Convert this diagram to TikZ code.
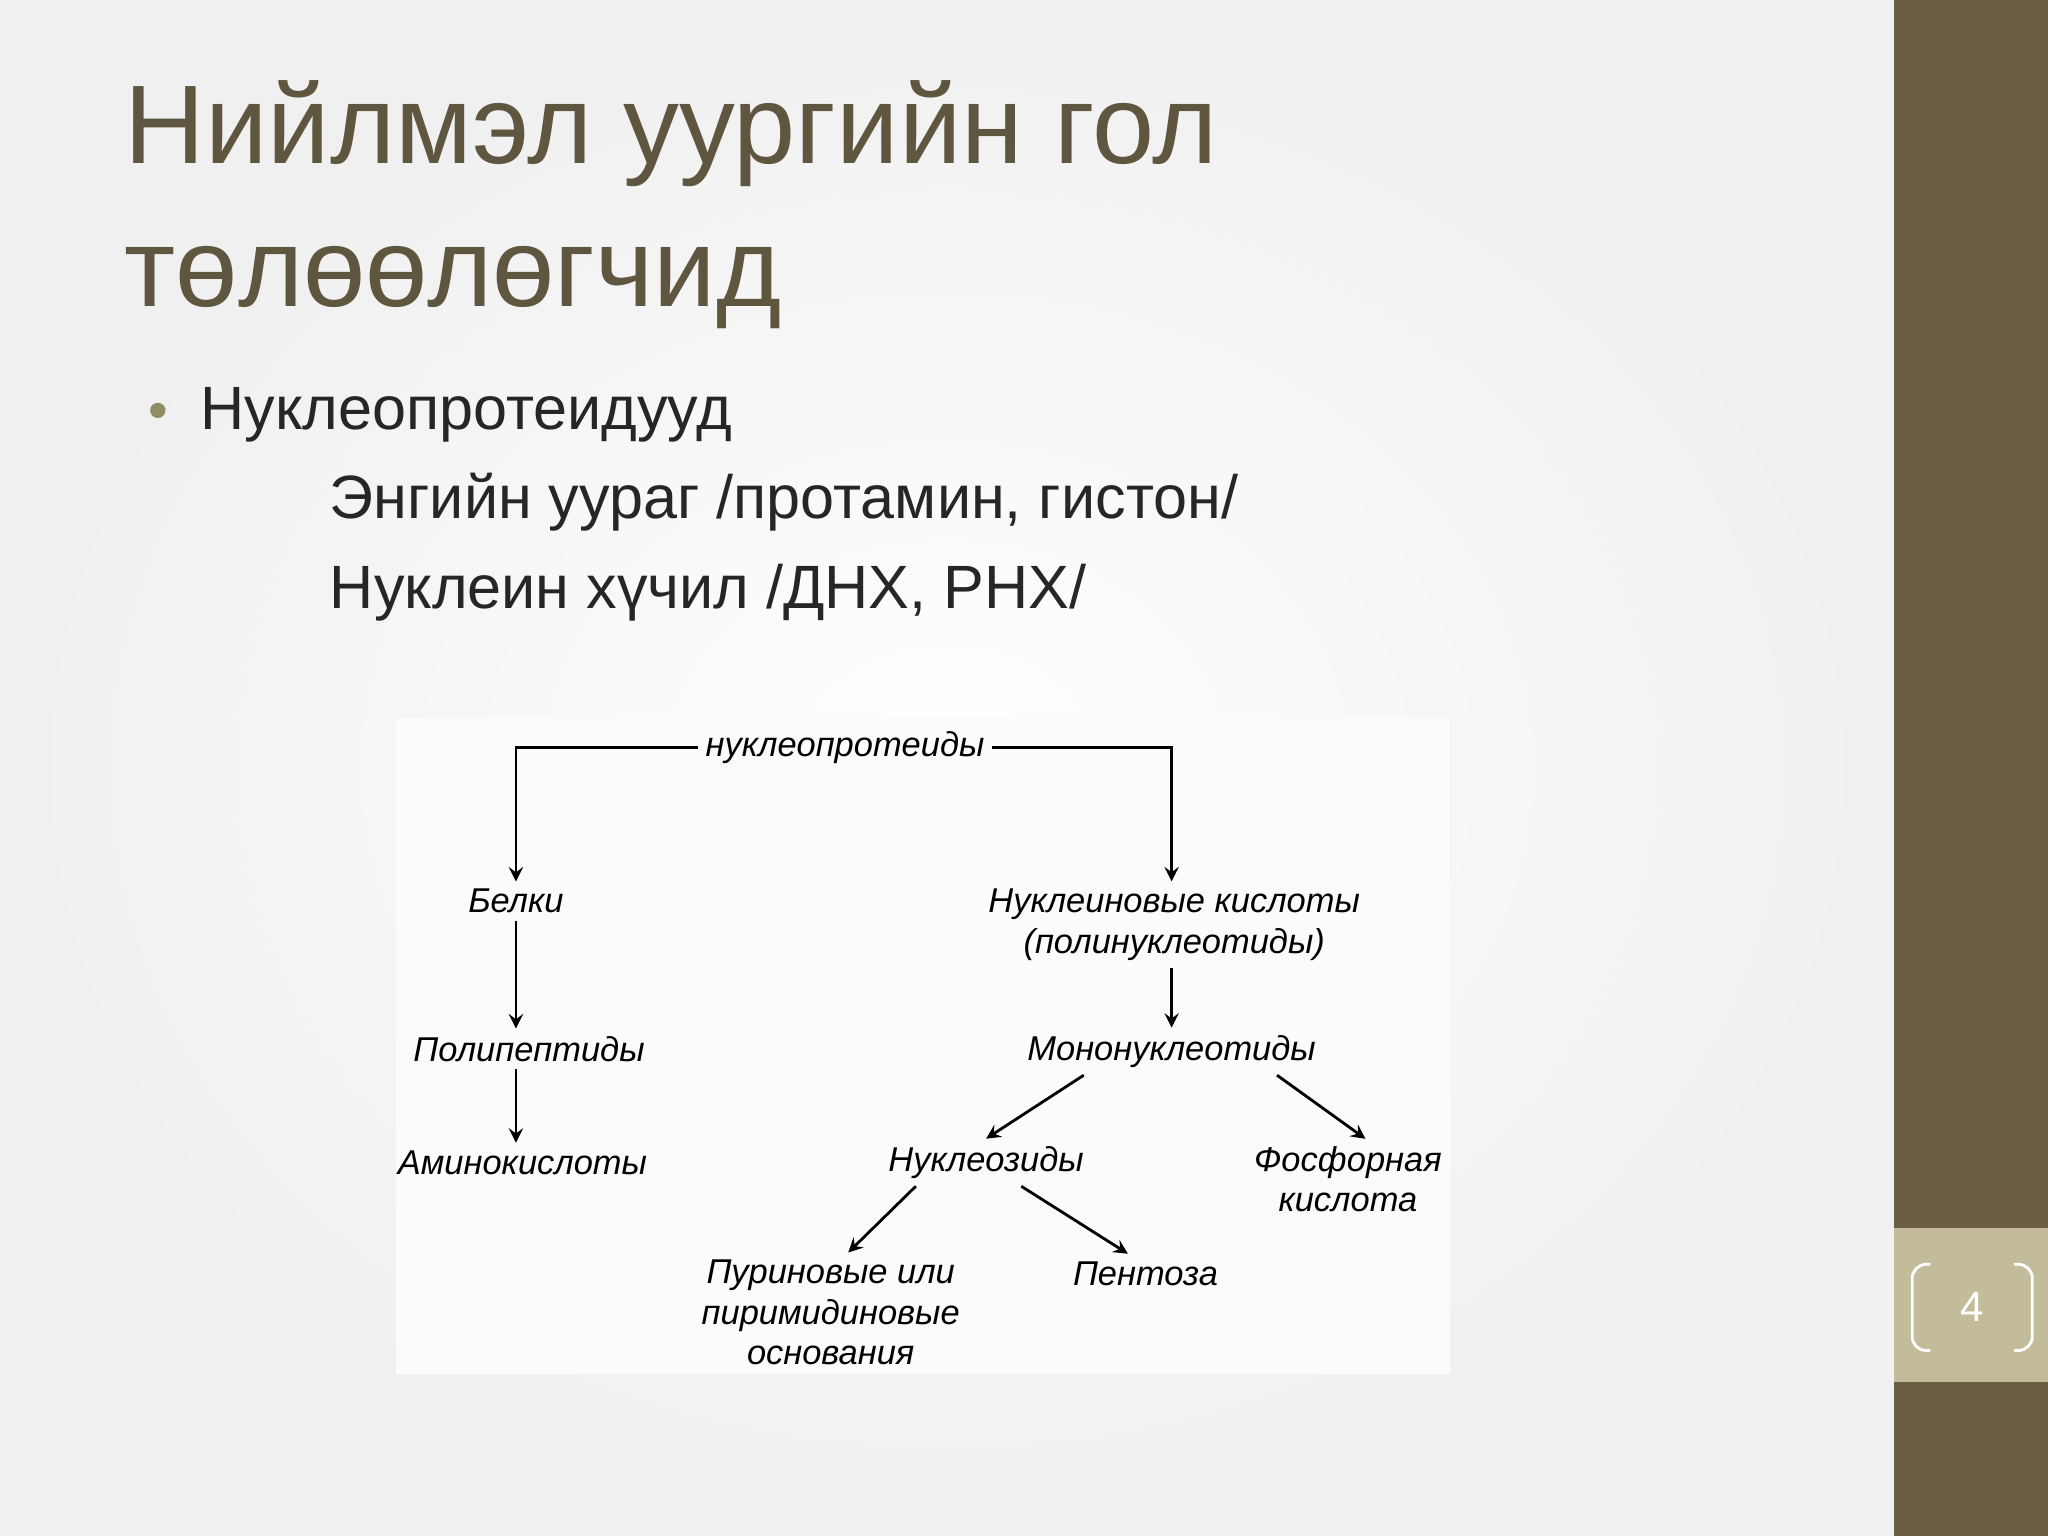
\documentclass[tikz,border=0pt]{standalone}
\usepackage{fontspec}
\setmainfont{Liberation Sans}
\usetikzlibrary{positioning}
\definecolor{barbrown}{HTML}{6B5E45}
\definecolor{pagetan}{HTML}{C2BC9A}
\definecolor{titlecol}{HTML}{5E563F}
\begin{document}
\begin{tikzpicture}[x=0.013061cm,y=-0.013061cm,
    item/.style={font=\fontsize{9.8}{11.5}\selectfont\itshape,align=center,inner sep=2pt},
    link/.style={->,>=stealth,thick}]
  \shade[inner color=white,outer color=gray!12] (0,0) rectangle (1450,1176);
  \fill[barbrown] (1450,0) rectangle (1568,1176);
  \fill[pagetan] (1450,940) rectangle (1568,1058);
  \draw[white,thick,rounded corners=4pt] (1478,968) -- (1464,968) -- (1464,1034) -- (1478,1034);
  \draw[white,thick,rounded corners=4pt] (1542,968) -- (1556,968) -- (1556,1034) -- (1542,1034);
  \node[white,font=\fontsize{12}{14}\selectfont] (pagenum) at (1510,1001) {4};

  \node[anchor=base west,text=titlecol,inner sep=0,font=\fontsize{31.8}{38}\selectfont] (title1) at (95,125) {Нийлмэл уургийн гол};
  \node[anchor=base west,text=titlecol,inner sep=0,font=\fontsize{31.8}{38}\selectfont] (title2) at (95,235) {төлөөлөгчид};
  \node[anchor=base west,text=gray!70!olive,inner sep=0,font=\fontsize{16}{18}\selectfont] (bullet) at (113,329) {•};
  \node[anchor=base west,text=black!85,inner sep=0,font=\fontsize{17.4}{20}\selectfont] (line1) at (153,329) {Нуклеопротеидууд};
  \node[anchor=base west,text=black!85,inner sep=0,font=\fontsize{17.4}{20}\selectfont] (line2) at (252,397) {Энгийн уураг /протамин, гистон/};
  \node[anchor=base west,text=black!85,inner sep=0,font=\fontsize{17.4}{20}\selectfont] (line3) at (252,466) {Нуклеин хүчил /ДНХ, РНХ/};

  \fill[white!97!gray] (303,550) rectangle (1110,1052);
  \node[item] (np) at (647,572) {нуклеопротеиды};
  \node[item] (bel) at (395,690) {Белки};
  \node[item] (nk) at (899,708) {Нуклеиновые кислоты\\(полинуклеотиды)};
  \node[item] (pol) at (405,803) {Полипептиды};
  \node[item] (amk) at (400,890) {Аминокислоты};
  \node[item] (mono) at (897,805) {Мононуклеотиды};
  \node[item] (nuc) at (755,890) {Нуклеозиды};
  \node[item] (fos) at (1032,903) {Фосфорная\\кислота};
  \node[item] (pur) at (636,1005) {Пуриновые или\\пиримидиновые\\основания};
  \node[item] (pen) at (877,975) {Пентоза};

  \draw[link] (np.west) -| (bel.north);
  \draw[link] (np.east) -| (nk.north -| mono);
  \draw[link] (bel.south) -- (bel.south |- pol.north);
  \draw[link] (bel.south |- pol.south) -- (bel.south |- amk.north);
  \draw[link] (nk.south -| mono) -- (mono);
  \draw[link] ([xshift=-25]mono.south) -- (nuc.north);
  \draw[link] ([xshift=30]mono.south) -- ([xshift=5]fos.north);
  \draw[link] ([xshift=-20]nuc.south) -- ([xshift=5]pur.north);
  \draw[link] ([xshift=10]nuc.south) -- ([xshift=-5]pen.north);
\end{tikzpicture}
\end{document}
